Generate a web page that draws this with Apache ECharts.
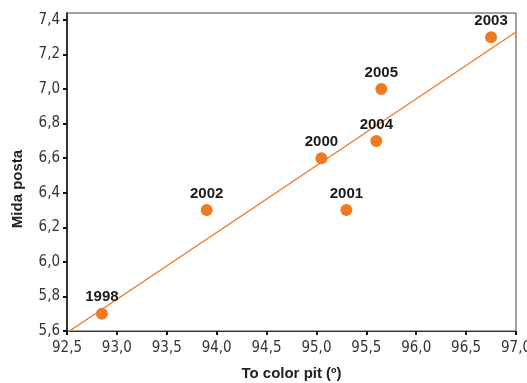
<!DOCTYPE html>
<html>
<head>
<meta charset="utf-8">
<script src="https://cdn.jsdelivr.net/npm/echarts@6/dist/echarts.min.js"></script>
<style>html,body{margin:0;padding:0;background:#fff}#c{width:527px;height:383px}</style>
</head>
<body>
<div id="c"></div>
<script>
var years = ['1998', '2002', '2000', '2001', '2004', '2005', '2003'];
var colorPit = [92.85, 93.9, 95.05, 95.3, 95.6, 95.65, 96.75];
var midaPosta = [5.7, 6.3, 6.6, 6.3, 6.7, 7.0, 7.3];
var trendX = [92.5, 97.0];
var trendY = [5.59, 7.33];
var xTicks = [92.5, 93.0, 93.5, 94.0, 94.5, 95.0, 95.5, 96.0, 96.5, 97.0];
var yTicks = [5.6, 5.8, 6.0, 6.2, 6.4, 6.6, 6.8, 7.0, 7.2, 7.4];

var orange = '#F07A22';
var narrow = "'Liberation Sans Narrow', 'DejaVu Sans Condensed', sans-serif";
function fmt(v) { return v.toFixed(1).replace('.', ','); }

var chart = echarts.init(document.getElementById('c'));
chart.setOption({
  animation: false,
  grid: { left: 67, right: 11, top: 13, bottom: 52, show: true, borderColor: '#444', borderWidth: 1, containLabel: false, outerBoundsMode: 'none' },
  xAxis: {
    type: 'value', min: 92.5, max: 97.0,
    name: 'To color pit (º)', nameLocation: 'middle', nameGap: 35,
    nameTextStyle: { fontFamily: 'Liberation Sans', fontWeight: 'bold', fontSize: 15, color: '#222' },
    axisLine: { show: true, lineStyle: { color: '#333', width: 1 } },
    axisTick: { show: true, inside: false, length: 4, lineStyle: { color: '#111', width: 2 }, customValues: xTicks },
    axisLabel: { customValues: xTicks, formatter: fmt, fontFamily: narrow, fontSize: 15, color: '#333', margin: 10 },
    splitLine: { show: false }
  },
  yAxis: {
    type: 'value', min: 5.6, max: 7.44,
    name: 'Mida posta', nameLocation: 'middle', nameGap: 42,
    nameTextStyle: { fontFamily: 'Liberation Sans', fontWeight: 'bold', fontSize: 15, color: '#222', padding: [0, 34, 0, 0] },
    axisLine: { show: true, lineStyle: { color: '#111', width: 1.5 } },
    axisTick: { show: true, inside: false, length: 4, lineStyle: { color: '#111', width: 2 }, customValues: yTicks },
    axisLabel: { customValues: yTicks, formatter: fmt, fontFamily: narrow, fontSize: 15, color: '#333', margin: 7 },
    splitLine: { show: false }
  },
  series: [
    {
      type: 'line',
      data: trendX.map(function (x, i) { return [x, trendY[i]]; }),
      symbol: 'none',
      lineStyle: { color: orange, width: 1.3 },
      z: 1
    },
    {
      type: 'scatter',
      data: colorPit.map(function (x, i) { return { value: [x, midaPosta[i]], name: years[i] }; }),
      symbolSize: 12,
      itemStyle: { color: orange, opacity: 1 },
      label: {
        show: true, position: 'top', distance: 3,
        formatter: function (p) { return p.name; },
        fontFamily: 'Liberation Sans', fontWeight: 'bold', fontSize: 15, color: '#1a1a1a', opacity: 1
      },
      z: 3
    }
  ]
});
</script>
</body>
</html>
